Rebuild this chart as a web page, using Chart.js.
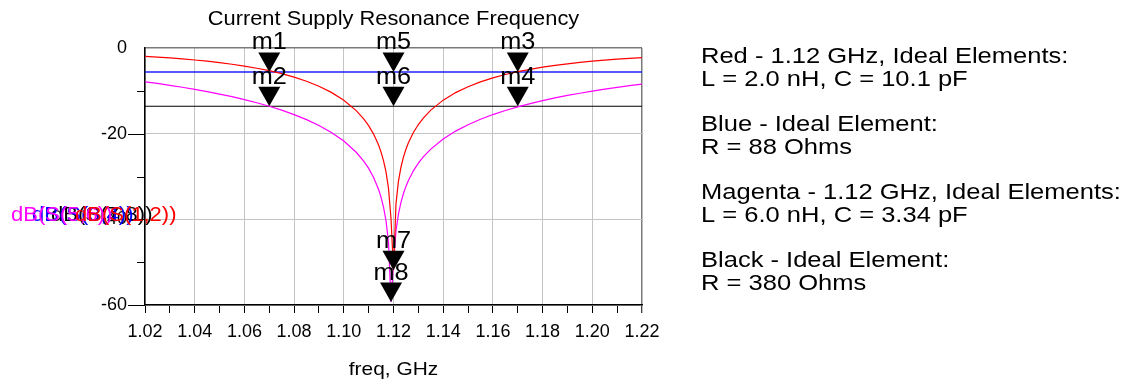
<!DOCTYPE html>
<html><head><meta charset="utf-8">
<script src="https://cdn.jsdelivr.net/npm/chart.js@4.4.0/dist/chart.umd.min.js"></script>
<style>html,body{margin:0;padding:0;background:#fff;overflow:hidden}canvas{display:block}</style>
</head><body>
<canvas id="c" width="1134" height="381"></canvas>
<script>
// ---- data ----
const freqGHz = [1.020,1.025,1.030,1.035,1.040,1.045,1.050,1.055,1.060,1.065,1.070,1.075,1.080,1.085,1.090,1.095,1.100,
  1.105,1.108,1.110,1.112,1.114,1.115,1.116,1.117,1.118,1.119,1.120,
  1.121,1.122,1.123,1.124,1.125,1.126,
  1.128,1.130,1.132,1.135,
  1.140,1.145,1.150,1.155,1.160,1.165,1.170,1.175,1.180,1.185,1.190,1.195,1.200,1.205,1.210,1.215,1.220];
const redDB = [-1.95,-2.13,-2.32,-2.55,-2.80,-3.08,-3.41,-3.79,-4.22,-4.72,-5.30,-5.99,-6.79,-7.76,-8.92,-10.36,-12.19,
  -14.62,-16.54,-18.14,-20.10,-22.66,-24.30,-26.33,-28.99,-32.83,-39.85,-51.9,
  -36.35,-31.09,-27.84,-25.49,-23.65,-22.13,
  -19.73,-17.87,-16.35,-14.51,
  -12.17,-10.41,-9.03,-7.90,-6.97,-6.19,-5.53,-4.97,-4.48,-4.06,-3.69,-3.37,-3.08,-2.83,-2.61,-2.41,-2.23];
const magentaDB = [-7.89,-8.28,-8.71,-9.17,-9.66,-10.18,-10.75,-11.37,-12.05,-12.79,-13.61,-14.52,-15.55,-16.73,-18.09,-19.72,-21.72,
  -24.34,-26.40,-28.11,-30.21,-33.03,-34.86,-37.20,-40.38,-45.45,-59.3,-50.09,
  -42.66,-38.72,-36.02,-33.97,-32.31,-30.92,
  -28.67,-26.89,-25.42,-23.60,
  -21.24,-19.40,-17.90,-16.63,-15.54,-14.58,-13.74,-12.97,-12.29,-11.66,-11.08,-10.56,-10.07,-9.62,-9.20,-8.80,-8.44];
const flatFreq = [1.02, 1.22];
const blueDB = [-5.6, -5.6];
const blackDB = [-13.6, -13.6];

const markerNames = ['m1','m2','m3','m4','m5','m6','m7','m8'];
const markerFreq  = [1.07, 1.07, 1.17, 1.17, 1.12, 1.12, 1.12, 1.119];
const markerDB    = [-5.6, -13.6, -5.6, -13.6, -5.6, -13.6, -51.9, -59.3];

const xTickValues = [1.02,1.03,1.04,1.05,1.06,1.07,1.08,1.09,1.10,1.11,1.12,1.13,1.14,1.15,1.16,1.17,1.18,1.19,1.20,1.21,1.22];
const xTickLabels = ['1.02','','1.04','','1.06','','1.08','','1.10','','1.12','','1.14','','1.16','','1.18','','1.20','','1.22'];
const yTickValues = [0, -20, -40, -60];
const yTickLabels = ['0', '-20', '-40', '-60'];
const yMinorValues = [-10, -30, -50];

const titleText = 'Current Supply Resonance Frequency';
const xTitleText = 'freq, GHz';
const yTitleTexts  = ['dB(S(7,8))', 'dB(S(3,4))', 'dB(S(5,6))', 'dB(S(1,2))'];
const yTitleColors = ['#000000', '#0000ff', '#ff00ff', '#ff0000'];
const yTitleX      = [51, 32, 11, 75];
const legendLines = ['Red - 1.12 GHz, Ideal Elements:', 'L = 2.0 nH, C = 10.1 pF',
  'Blue - Ideal Element:', 'R = 88 Ohms',
  'Magenta - 1.12 GHz, Ideal Elements:', 'L = 6.0 nH, C = 3.34 pF',
  'Black - Ideal Element:', 'R = 380 Ohms'];

// ---- drawing ----
const FONT = "'Liberation Sans', Arial, Helvetica, sans-serif";
function sText(ctx, text, x, y, size, color, align, sx) {
  ctx.save();
  ctx.font = size + 'px ' + FONT;
  ctx.fillStyle = color;
  ctx.textBaseline = 'alphabetic';
  ctx.textAlign = 'left';
  const w = ctx.measureText(text).width * sx;
  let x0 = x;
  if (align === 'center') x0 = x - w / 2; else if (align === 'right') x0 = x - w;
  ctx.translate(x0, y);
  ctx.scale(sx, 1);
  ctx.fillText(text, 0, 0);
  ctx.restore();
}
const pts = (xs, ys) => xs.map((x, i) => ({x: x, y: ys[i]}));

const overlay = {
  id: 'overlay',
  afterDatasetsDraw(chart) {
    const ctx = chart.ctx, xs = chart.scales.x, ys = chart.scales.y;
    ctx.save();
    ctx.fillStyle = '#000';
    markerNames.forEach((n, i) => {
      const px = xs.getPixelForValue(markerFreq[i]);
      const py = ys.getPixelForValue(markerDB[i]);
      ctx.beginPath();
      ctx.moveTo(px - 11, py - 19.5);
      ctx.lineTo(px + 11, py - 19.5);
      ctx.lineTo(px, py);
      ctx.closePath();
      ctx.fill();
      sText(ctx, n, px, py - 22.5, 23, '#000', 'center', 1.1);
    });
    ctx.restore();
  },
  afterDraw(chart) {
    const ctx = chart.ctx, ys = chart.scales.y, area = chart.chartArea;
    ctx.save();
    ctx.strokeStyle = '#000';
    ctx.lineWidth = 1;
    yMinorValues.forEach(v => {
      const py = Math.round(ys.getPixelForValue(v)) + 0.5;
      ctx.beginPath(); ctx.moveTo(area.left - 8, py); ctx.lineTo(area.left, py); ctx.stroke();
    });
    yTickValues.forEach(v => {
      if (v === 0) return;
      const py = Math.round(ys.getPixelForValue(v)) + 0.5;
      ctx.beginPath(); ctx.moveTo(area.left - 17, py); ctx.lineTo(area.left, py); ctx.stroke();
    });
    ctx.restore();
    sText(ctx, titleText, (area.left + area.right) / 2, 25, 19.5, '#000', 'center', 1.12);
    sText(ctx, xTitleText, (area.left + area.right) / 2, 375, 19, '#000', 'center', 1.1);
    yTitleTexts.forEach((t, i) => sText(ctx, t, yTitleX[i], 221, 20, yTitleColors[i], 'left', 1.1));
    legendLines.forEach((t, i) => {
      const g = Math.floor(i / 2), sub = i % 2;
      sText(ctx, t, 701, 62.5 + g * 68 + sub * 23, 22, '#000', 'left', 1.16);
    });
  }
};

new Chart(document.getElementById('c'), {
  type: 'scatter',
  data: {
    datasets: [
      {label: 'dB(S(1,2))', data: pts(freqGHz, redDB), borderColor: '#ff0000', showLine: true, borderWidth: 1.2, pointRadius: 0, tension: 0},
      {label: 'dB(S(3,4))', data: pts(flatFreq, blueDB), borderColor: '#2020ff', showLine: true, borderWidth: 1.5, pointRadius: 0},
      {label: 'dB(S(5,6))', data: pts(freqGHz, magentaDB), borderColor: '#ff00ff', showLine: true, borderWidth: 1.2, pointRadius: 0, tension: 0},
      {label: 'dB(S(7,8))', data: pts(flatFreq, blackDB), borderColor: '#000000', showLine: true, borderWidth: 1.2, pointRadius: 0}
    ]
  },
  options: {
    responsive: false, animation: false, devicePixelRatio: 1,
    layout: {padding: {left: 0, top: 48, right: 492, bottom: 0}},
    plugins: {legend: {display: false}, title: {display: false}, tooltip: {enabled: false}},
    events: [],
    scales: {
      x: {
        type: 'linear', min: 1.02, max: 1.22,
        afterBuildTicks: s => { s.ticks = xTickValues.map(v => ({value: v})); },
        afterFit: s => { s.height = 76; },
        ticks: {autoSkip: false, maxRotation: 0, minRotation: 0, padding: 8, color: '#000',
          font: {family: FONT, size: 18}, callback: (v, i) => xTickLabels[i]},
        grid: {
          color: c => xTickLabels[c.index] === '' ? 'rgba(0,0,0,0)' : (c.index === xTickValues.length - 1 ? '#7a7a7a' : '#c4c4c4'),
          lineWidth: c => c.index === xTickValues.length - 1 ? 1.5 : 1,
          drawTicks: true, tickLength: 8, tickColor: '#000', tickWidth: 1
        },
        border: {display: true, color: '#000', width: 1.5}
      },
      y: {
        type: 'linear', min: -60, max: 0,
        afterBuildTicks: s => { s.ticks = yTickValues.map(v => ({value: v})); },
        afterFit: s => { s.width = 145; },
        ticks: {padding: 18, color: '#000', font: {family: FONT, size: 18}, callback: (v, i) => yTickLabels[i]},
        grid: {color: c => c.index === 0 ? '#7a7a7a' : '#c4c4c4', lineWidth: c => c.index === 0 ? 1.5 : 1, drawTicks: false},
        border: {display: true, color: '#000', width: 1.5}
      }
    }
  },
  plugins: [overlay]
});
</script></body></html>
